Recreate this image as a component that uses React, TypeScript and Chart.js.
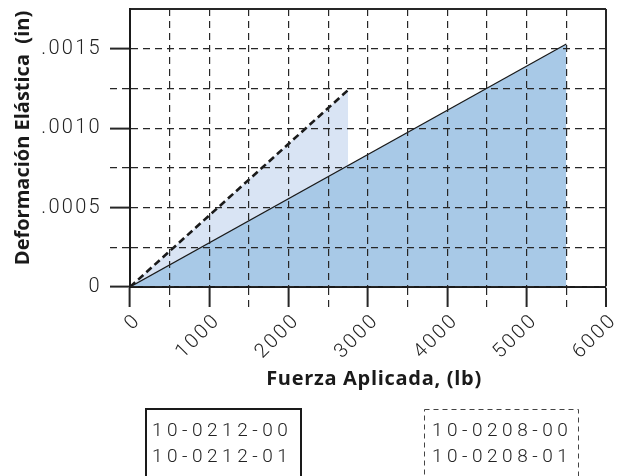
import React, { useEffect, useRef } from 'react';
import { Chart, registerables } from 'chart.js';

Chart.register(...registerables);

// ---- data ----
const solidForce = [0, 5500];
const solidDeflection = [0, 0.00153];
const dashedForce = [0, 2750];
const dashedDeflection = [0, 0.00124];

const xTickValues = [0, 1000, 2000, 3000, 4000, 5000, 6000];
const xTickLabels = ['0', '1000', '2000', '3000', '4000', '5000', '6000'];
const yTickValues = [0, 0.0005, 0.001, 0.0015];
const yTickLabels = ['0', '.0005', '.0010', '.0015'];

const solidLegend = ['10-0212-00', '10-0212-01'];
const dashedLegend = ['10-0208-00', '10-0208-01'];

const xTitle = 'Fuerza Aplicada, (lb)';
const yTitle = 'Deformación Elástica  (in)';

const X_MIN = 0;
const X_MAX = 6000;
const X_STEP = 500;
const Y_MIN = 0;
const Y_MAX = 0.00175;
const Y_STEP = 0.00025;

const INK = '#262626';
const DASH = [7, 5];
const TICK_FONT = { family: 'Roboto, "DejaVu Sans", sans-serif', weight: '300', size: 20 };

const findIdx = (vals: number[], v: number, eps: number) =>
  vals.findIndex((t) => Math.abs(t - v) < eps);
const isMajorX = (v: any) => typeof v === 'number' && findIdx(xTickValues, v, 0.5) >= 0;
const isMajorY = (v: any) => typeof v === 'number' && findIdx(yTickValues, v, 1e-9) >= 0;
const isXEnd = (v: any) => typeof v === 'number' && Math.abs(v - X_MAX) < 0.5;
const isYEnd = (v: any) => typeof v === 'number' && Math.abs(v - Y_MAX) < 1e-9;

const decorPlugin = {
  id: 'decor',
  afterDatasetsDraw(chart: any) {
    chart.ctx.letterSpacing = '2.3px';
  },
  afterDraw(chart: any) {
    const ctx = chart.ctx;
    ctx.save();
    ctx.fillStyle = '#1a1a1a';
    // axis titles
    ctx.letterSpacing = '0.7px';
    ctx.font = '700 20px "Open Sans", sans-serif';
    ctx.textAlign = 'center';
    ctx.textBaseline = 'alphabetic';
    ctx.fillText(xTitle, 374, 385);
    ctx.save();
    ctx.translate(28.5, 138);
    ctx.rotate(-Math.PI / 2);
    ctx.letterSpacing = '0px';
    ctx.font = '700 20px "Open Sans", sans-serif';
    ctx.fillText(yTitle, 0, 0);
    ctx.restore();

    // legend boxes
    ctx.strokeStyle = '#1a1a1a';
    ctx.lineWidth = 2;
    ctx.setLineDash([]);
    ctx.strokeRect(146, 409, 155, 90);
    ctx.strokeStyle = '#444';
    ctx.lineWidth = 1;
    ctx.setLineDash([5, 4]);
    ctx.strokeRect(424.5, 409.5, 154, 90);
    ctx.setLineDash([]);

    ctx.letterSpacing = '4.5px';
    ctx.font = '300 19px Roboto, "DejaVu Sans", sans-serif';
    ctx.textAlign = 'left';
    ctx.textBaseline = 'middle';
    ctx.fillStyle = '#222';
    solidLegend.forEach((t, i) => ctx.fillText(t, 152, 431 + i * 26));
    dashedLegend.forEach((t, i) => ctx.fillText(t, 432, 431 + i * 26));
    ctx.restore();
    ctx.letterSpacing = '0px';
  },
};

export default function App() {
  const ref = useRef<HTMLCanvasElement>(null);

  useEffect(() => {
    if (!ref.current) return;
    const chart = new Chart(ref.current, {
      type: 'line',
      data: {
        datasets: [
          {
            label: 'solid',
            data: solidForce.map((x, i) => ({ x, y: solidDeflection[i] })),
            borderColor: '#1a1a1a',
            borderWidth: 1.2,
            backgroundColor: '#a8c9e7',
            fill: 'origin',
            pointRadius: 0,
            tension: 0,
          },
          {
            label: 'dashed',
            data: dashedForce.map((x, i) => ({ x, y: dashedDeflection[i] })),
            borderColor: '#1a1a1a',
            borderWidth: 2.6,
            borderDash: [7, 4],
            backgroundColor: '#d9e4f4',
            fill: 'origin',
            pointRadius: 0,
            tension: 0,
          },
        ],
      },
      options: {
        animation: false,
        responsive: false,
        devicePixelRatio: 1,
        layout: { padding: { top: 9, right: 11, left: 0, bottom: 0 } },
        plugins: { legend: { display: false }, tooltip: { enabled: false } },
        scales: {
          x: {
            type: 'linear',
            min: X_MIN,
            max: X_MAX,
            afterFit: (s: any) => {
              s.height = 189;
              s.paddingLeft = 0;
              s.paddingRight = 0;
            },
            ticks: {
              stepSize: X_STEP,
              autoSkip: false,
              minRotation: 45,
              maxRotation: 45,
              padding: 2,
              labelOffset: 8,
              color: '#222',
              font: TICK_FONT,
              z: 1,
              callback: (v: any) => {
                const i = findIdx(xTickValues, Number(v), 0.5);
                return i >= 0 ? xTickLabels[i] : '';
              },
            },
            grid: {
              color: INK,
              lineWidth: (c: any) => (isXEnd(c.tick?.value) ? 2 : 1.2),
              tickLength: 20,
              tickColor: INK,
              tickWidth: (c: any) => (isMajorX(c.tick?.value) ? 2 : 1.2),
              tickBorderDash: (c: any) => (isMajorX(c.tick?.value) ? [] : DASH),
              z: 1,
            },
            border: {
              display: true,
              color: '#1a1a1a',
              width: 2,
              dash: (c: any) => (c.type === 'tick' && !isXEnd(c.tick?.value) ? DASH : []),
              z: 1,
            },
          },
          y: {
            type: 'linear',
            min: Y_MIN,
            max: Y_MAX,
            afterFit: (s: any) => {
              s.width = 130;
              s.paddingTop = 0;
              s.paddingBottom = 0;
            },
            ticks: {
              stepSize: Y_STEP,
              autoSkip: false,
              padding: 8,
              color: '#222',
              font: TICK_FONT,
              z: 1,
              callback: (v: any) => {
                const i = findIdx(yTickValues, Number(v), 1e-9);
                return i >= 0 ? yTickLabels[i] : '';
              },
            },
            grid: {
              color: INK,
              lineWidth: (c: any) => (isYEnd(c.tick?.value) ? 2 : 1.2),
              tickLength: 20,
              tickColor: (c: any) => (isYEnd(c.tick?.value) ? 'rgba(0,0,0,0)' : INK),
              tickWidth: (c: any) => (isMajorY(c.tick?.value) ? 2 : 1.2),
              tickBorderDash: (c: any) => (isMajorY(c.tick?.value) ? [] : DASH),
              z: 1,
            },
            border: {
              display: true,
              color: '#1a1a1a',
              width: 2,
              dash: (c: any) => (c.type === 'tick' && !isYEnd(c.tick?.value) ? DASH : []),
              z: 1,
            },
          },
        },
      },
      plugins: [decorPlugin],
    } as any);
    return () => chart.destroy();
  }, []);

  return (
    <canvas
      ref={ref}
      width={617}
      height={476}
      style={{ position: 'fixed', left: 0, top: 0, width: 617, height: 476, display: 'block' }}
    />
  );
}
